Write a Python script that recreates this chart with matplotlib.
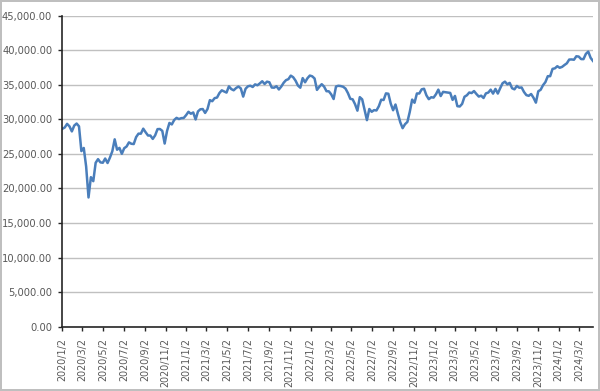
import numpy as np
import pandas as pd
import matplotlib
matplotlib.use("Agg")
import matplotlib.pyplot as plt
from matplotlib.ticker import FuncFormatter

# weekly closes (first week of 2020 onward)
start_week = "2020-01-03"
values_2020 = [28634, 28823, 29348, 28990, 28256, 29102, 29398, 28992, 25409, 25864,
               23186, 18700, 21637, 21053, 23719, 24242, 23775, 23724, 24331, 23685,
               24465, 25383, 27111, 25606, 25871, 25016, 25827, 26075, 26672, 26470,
               26428, 27433, 27931, 27930, 28654, 28133, 27666, 27657, 27174, 27683,
               28587, 28606, 28336, 26502, 28323, 29480, 29263, 29910, 30218, 30046,
               30179, 30200, 30606]
values_2021 = [31098, 30814, 30997, 29983, 31148, 31458, 31494, 30932, 31496, 32779,
               32628, 33073, 33153, 33801, 34200, 34043, 33875, 34778, 34382, 34208,
               34529, 34756, 34480, 33290, 34433, 34786, 34870, 34687, 35062, 34935,
               35209, 35515, 35120, 35456, 35369, 34608, 34584, 34798, 34327, 34746,
               35295, 35677, 35820, 36328, 36100, 35602, 34899, 34580, 35971, 35365,
               35950, 36338]
values_2022 = [36231, 35912, 34265, 34725, 35089, 34738, 34079, 34059, 33614, 32944,
               34755, 34861, 34818, 34721, 34451, 33811, 32977, 32899, 32197, 31262,
               33213, 32900, 31393, 29888, 31500, 31097, 31338, 31288, 31899, 32845,
               32803, 33761, 33706, 32283, 31318, 32151, 30822, 29590, 28725, 29297,
               29634, 31082, 32861, 32403, 33747, 33746, 34347, 34430, 33476, 32920,
               33203, 33147]
values_2023 = [33630, 34303, 33375, 33978, 33926, 33869, 33827, 32817, 33391, 31910,
               31862, 32238, 33274, 33485, 33886, 33809, 34098, 33674, 33301, 33427,
               33093, 33763, 33877, 34299, 33727, 34408, 33735, 34509, 35228, 35459,
               35066, 35281, 34501, 34347, 34838, 34577, 34618, 33964, 33508, 33408,
               33670, 33127, 32418, 34061, 34283, 34947, 35390, 36246, 36248, 37306,
               37386, 37690]
values_2024 = [37466, 37593, 37863, 38109, 38654, 38671, 38628, 39131, 39087, 38723,
               38715, 39476, 39807, 38904, 38450]

tick_dates = ["2020-01-02", "2020-03-02", "2020-05-02", "2020-07-02", "2020-09-02",
              "2020-11-02", "2021-01-02", "2021-03-02", "2021-05-02", "2021-07-02",
              "2021-09-02", "2021-11-02", "2022-01-02", "2022-03-02", "2022-05-02",
              "2022-07-02", "2022-09-02", "2022-11-02", "2023-01-02", "2023-03-02",
              "2023-05-02", "2023-07-02", "2023-09-02", "2023-11-02", "2024-01-02",
              "2024-03-02"]
y_ticks = [0, 5000, 10000, 15000, 20000, 25000, 30000, 35000, 40000, 45000]

values = values_2020 + values_2021 + values_2022 + values_2023 + values_2024
dates = pd.date_range(start_week, periods=len(values), freq="W-FRI")
ticks = pd.to_datetime(tick_dates)
tick_labels = [f"{d.year}/{d.month}/{d.day}" for d in ticks]

text_col = "#595959"

fig = plt.figure(figsize=(6, 3.91), dpi=100)
fig.patch.set_facecolor("white")
fig.patch.set_edgecolor("#BFBFBF")
fig.patch.set_linewidth(1.5)

ax = fig.add_axes([62 / 600, (391 - 326.7) / 391, (593 - 62) / 600, (326.7 - 15.7) / 391])
ax.plot(dates, values, color="#4A7EBB", linewidth=1.8, solid_joinstyle="round")

ax.set_ylim(0, 45000)
ax.set_yticks(y_ticks)
ax.yaxis.set_major_formatter(FuncFormatter(lambda v, p: f"{v:,.2f}"))
ax.set_xlim(pd.Timestamp("2020-01-02"), dates[-1])
ax.set_xticks(ticks)
ax.set_xticklabels(tick_labels, rotation=90)

ax.grid(axis="y", color="#C0C0C0", linewidth=1)
ax.set_axisbelow(True)
for s in ["top", "right"]:
    ax.spines[s].set_visible(False)
for s in ["left", "bottom"]:
    ax.spines[s].set_color("#262626")
    ax.spines[s].set_linewidth(1.2)

ax.tick_params(axis="both", colors="#262626", labelcolor=text_col,
               length=3, width=1, direction="out")
ax.tick_params(axis="y", labelsize=7.2, pad=4)
ax.tick_params(axis="x", labelsize=6.9, pad=5)

fig.savefig("out.png", dpi=100, facecolor=fig.get_facecolor(), edgecolor=fig.get_edgecolor())
